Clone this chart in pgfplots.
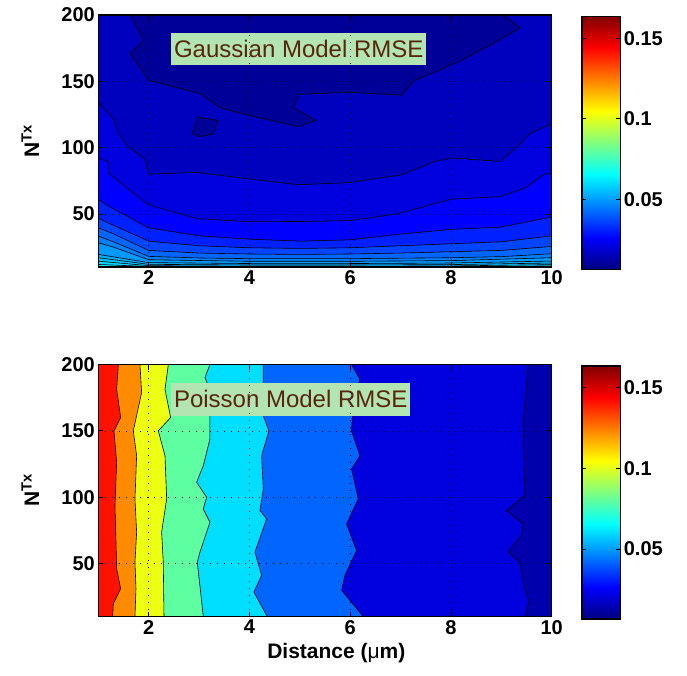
\documentclass[border=0pt]{standalone}
\usepackage{pgfplots}
\pgfplotsset{compat=1.18}
\usepackage{fontspec}
\setmainfont{Liberation Sans}
\definecolor{boxfill}{rgb}{0.70,0.90,0.70}
\definecolor{boxtext}{rgb}{0.35,0.15,0.05}
% top plot colours
\definecolor{t0}{rgb}{0,0.92,1}
\definecolor{tL}{rgb}{0,0.84,1}
\definecolor{tK}{rgb}{0,0.76,1}
\definecolor{tJ}{rgb}{0,0.68,1}
\definecolor{tI}{rgb}{0,0.60,1}
\definecolor{tH}{rgb}{0,0.50,1}
\definecolor{tG}{rgb}{0,0.40,1}
\definecolor{tF}{rgb}{0,0.27,1}
\definecolor{tE}{rgb}{0,0.13,1}
\definecolor{tD}{rgb}{0,0,1}
\definecolor{tC}{rgb}{0,0,0.87}
\definecolor{tB}{rgb}{0,0,0.75}
\definecolor{tA}{rgb}{0,0,0.60}
% bottom plot colours
\definecolor{b0}{rgb}{1,0.07,0}
\definecolor{b1}{rgb}{1,0.55,0}
\definecolor{b2}{rgb}{0.93,1,0.07}
\definecolor{b3}{rgb}{0.37,1,0.63}
\definecolor{b4}{rgb}{0,0.87,1}
\definecolor{b5}{rgb}{0,0.40,1}
\definecolor{b6}{rgb}{0,0,0.87}
\definecolor{b7}{rgb}{0,0,0.68}
\newcommand{\tickfont}{\fontsize{20}{20}\selectfont\bfseries}
\pgfplotsset{
  mystyle/.style={
    scale only axis, width=453.4pt, height=252pt, anchor=south west,
    xmin=1, xmax=10, ymin=10, ymax=200,
    xtick={2,4,6,8,10}, ytick={50,100,150,200},
    axis on top, tick align=inside, major tick length=5pt, tick pos=both,
    grid=major, major grid style={black, line width=0.6pt, dash pattern=on 1pt off 6pt},
    axis line style={line width=1.1pt},
    every tick/.style={black, line width=0.8pt},
    ticklabel style={font=\tickfont},
    /pgf/number format/assume math mode=true,
    ylabel={N\textsuperscript{Tx}},
    ylabel style={font=\fontsize{21}{21}\selectfont\bfseries, at={(axis description cs:-0.15,0.5)}, anchor=center},
    colorbar, colormap/jet, point meta min=0.0065, point meta max=0.1635,
    colorbar/width=38.3pt,
    colorbar style={at={(parent axis.north east)}, anchor=north west,
      xshift=21.8pt, yshift=-1.5pt, height=253pt,
      ytick={0.05,0.1,0.15}, yticklabels={0.05,0.1,0.15},
      yticklabel style={font=\tickfont},
      tick align=inside, major tick length=4pt,
      axis line style={line width=1.1pt}, every tick/.style={black, line width=0.8pt}},
    contour/.style={draw=black, line width=0.6pt},
  }
}
\begin{document}
\begin{tikzpicture}
\path[use as bounding box] (0,0) rectangle (687pt,675pt);
% ---------------- top: Gaussian ----------------
\begin{axis}[mystyle, at={(98.3pt,408pt)}]
\addplot[fill=t0, draw=none] coordinates {(1,10) (10,10) (10,200) (1,200)};
\addplot[fill=tL, contour] coordinates {(1,11.9) (2,10.4) (4,10.1) (6,10.1) (8,10.3) (10,10.8) (10,200) (1,200)};
\addplot[fill=tK, contour] coordinates {(1,14.4) (2,11) (4,10.6) (6,10.6) (8,10.8) (10,11.8) (10,200) (1,200)};
\addplot[fill=tJ, contour] coordinates {(1,17) (2,12) (4,11.5) (6,11.5) (8,11.8) (10,13) (10,200) (1,200)};
\addplot[fill=tI, contour] coordinates {(1,19.5) (2,13.3) (4,12.6) (6,12.6) (8,13) (10,14.5) (10,200) (1,200)};
\addplot[fill=tH, contour] coordinates {(1,28.3) (1.3,25) (2,15.5) (4,14.3) (6,14.3) (8,14.8) (10,17) (10,200) (1,200)};
\addplot[fill=tG, contour] coordinates {(1,33.3) (1.3,29) (2,18) (3,16.8) (4,16.3) (6,16.3) (8,17) (9,17.8) (10,20) (10,200) (1,200)};
\addplot[fill=tF, contour] coordinates {(1,39.6) (1.3,35) (2,22.5) (3,20.5) (4,19.8) (5,19.5) (6,19.8) (7,20.5) (8,21.5) (9,22.5) (10,25.5) (10,200) (1,200)};
\addplot[fill=tE, contour] coordinates {(1,47) (1.15,44) (2,29.5) (3,26) (4,24.5) (5,24) (6,24.5) (7,26) (8,27.5) (9,29) (10,33.5) (10,200) (1,200)};
\addplot[fill=tD, contour] coordinates {(1,61) (1.15,57) (2,39.5) (3,33.5) (4,31) (5,29.5) (6,30.5) (6.92,34.5) (8,38.4) (8.97,40) (10,47.7) (10,200) (1,200)};
\addplot[fill=tC, contour] coordinates {(1,92.5) (1.2,89) (1.2,81) (1.6,68.7) (2,56.8) (2.95,46.5) (4,44.2) (5,44.3) (6,45) (6.92,50) (8,61.1) (8.97,63) (9.47,69.5) (9.86,80) (10,80.5) (10,200) (1,200)};
\addplot[fill=tB, contour] coordinates {(1,134) (1.3,121.7) (1.4,110.4) (1.6,100.2) (1.93,91.4) (2,80) (2.95,81.3) (4.01,76.3) (4.97,72) (5.99,73.7) (7.02,79.5) (7.68,89.6) (8.01,92.2) (8.97,89.6) (9.3,100.2) (9.57,110.8) (10,118) (10,200) (1,200)};
\addplot[fill=tA, contour] coordinates {(1.63,200) (1.9,181) (1.63,171) (2,150.8) (3.02,140.7) (3.42,130) (4,124.2) (4.97,115.9) (5.32,120.5) (4.88,130) (4.99,140.2) (5.99,141.7) (7.02,139.6) (7.28,150.8) (7.84,159.6) (8.21,165.9) (8.84,178.5) (9.37,190.4) (9.04,200)};
\addplot[fill=tA, contour] coordinates {(2.98,123) (3.38,120.5) (3.28,110.4) (3.02,108.3) (2.87,110.4) (2.98,123)};
\node[fill=boxfill, text=boxtext, font=\fontsize{24}{24}\selectfont, anchor=west, inner xsep=3pt, inner ysep=0pt, minimum height=32pt] at (axis cs:2.44,174.7) {Gaussian Model RMSE};
\end{axis}
% ---------------- bottom: Poisson ----------------
\begin{axis}[mystyle, at={(98.3pt,58.5pt)},
  xlabel={Distance ({\mdseries μ}m)},
  xlabel style={font=\fontsize{21}{21}\selectfont\bfseries, at={(axis description cs:0.525,-0.145)}, anchor=center}]
\addplot[fill=b0, draw=none] coordinates {(1,10) (10,10) (10,200) (1,200)};
\addplot[fill=b1, contour] coordinates {(1.398,200) (1.364,181.3) (1.444,160) (1.312,150) (1.364,126.2) (1.331,93.6) (1.351,66.1) (1.364,46) (1.444,31) (1.298,19.7) (1.285,10) (10,10) (10,200)};
\addplot[fill=b2, contour] coordinates {(1.827,200) (1.86,178.8) (1.695,150) (1.761,131.2) (1.728,98.6) (1.761,73.6) (1.728,51) (1.748,31) (1.728,10) (10,10) (10,200)};
\addplot[fill=b3, contour] coordinates {(2.39,200) (2.324,181.3) (2.436,160) (2.191,150) (2.324,131.2) (2.357,98.6) (2.257,73.6) (2.29,51) (2.304,10) (10,10) (10,200)};
\addplot[fill=b4, contour] coordinates {(3.216,200) (3.117,190.1) (3.216,181.3) (3.216,143.75) (3.084,123.7) (2.952,111.2) (3.15,99.9) (3.084,91.1) (3.216,81.1) (3.018,58.5) (2.965,51) (3.084,10) (10,10) (10,200)};
\addplot[fill=b5, contour] coordinates {(4.275,200) (4.275,161.3) (4.387,150) (4.242,131.2) (4.275,106.2) (4.209,89.9) (4.341,83.6) (4.109,58.5) (4.242,41) (4.089,28.5) (4.354,10) (10,10) (10,200)};
\addplot[fill=b6, contour] coordinates {(6.027,200) (6.193,188.9) (6.06,171.3) (6.027,150) (6.193,131.2) (6.027,121.2) (6.16,98.6) (5.928,79.8) (6.127,59.8) (5.895,41) (5.829,29.7) (6.259,10) (10,10) (10,200)};
\addplot[fill=b7, contour] coordinates {(9.533,200) (9.434,156.3) (9.467,101.1) (9.103,89.9) (9.434,79.8) (9.4,71.1) (9.136,58.5) (9.367,51) (9.467,31) (9.553,21) (9.467,10) (10,10) (10,200)};
\node[fill=boxfill, text=boxtext, font=\fontsize{24}{24}\selectfont, anchor=west, inner xsep=3pt, inner ysep=0pt, minimum height=33pt] at (axis cs:2.44,173.8) {Poisson Model RMSE};
\end{axis}
\end{tikzpicture}
\end{document}
